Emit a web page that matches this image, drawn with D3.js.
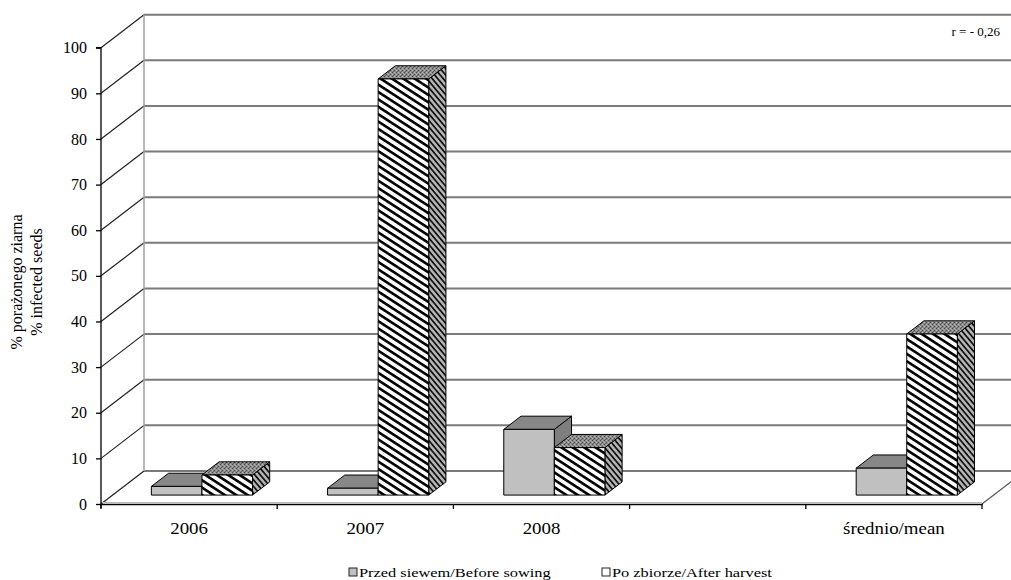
<!DOCTYPE html>
<html>
<head>
<meta charset="utf-8">
<script src="https://cdn.jsdelivr.net/npm/d3@7"></script>
<style>
  html, body { margin: 0; padding: 0; background: #fff; }
  svg { display: block; font-family: "Liberation Serif", "Times New Roman", serif; }
</style>
</head>
<body>
<svg id="chart" width="1011" height="580"></svg>
<script>
// Percentage of infected seeds, per year and the mean
const categories = ["2006", "2007", "2008", "", "średnio/mean"];
const seriesNames = ["Przed siewem/Before sowing", "Po zbiorze/After harvest"];
const beforeSowing = [1.9, 1.5, 14.4, null, 5.9];
const afterHarvest = [4.4, 91.2, 10.4, null, 35.3];
const yTicks = [0, 10, 20, 30, 40, 50, 60, 70, 80, 90, 100];
const yTitle = ["% porażonego ziarna", "% infected seeds"];
const note = "r = - 0,26";

const svg = d3.select("#chart");
const W = 1011, H = 580;
const serif = "Liberation Serif, Times New Roman, serif";

// front plane of the 3-D box
const x = d3.scaleBand().domain(categories).range([101, 982]).paddingInner(0).paddingOuter(0);
const y = d3.scaleLinear().domain([0, 100]).range([504, 47.7]);

// oblique projection of the depth axis
const DX = 43, DY = -33;                // full floor depth
const barFront = 0.27, barDepth = 0.4;  // bar slab position inside the depth
const bw = x.bandwidth();

const defs = svg.append("defs");
// stripes on the front of the "after harvest" bars
const pFront = defs.append("pattern").attr("id", "hatchFront")
  .attr("patternUnits", "userSpaceOnUse").attr("width", 12).attr("height", 6.2)
  .attr("patternTransform", "rotate(33)");
pFront.append("rect").attr("width", 12).attr("height", 6.2).attr("fill", "#fff");
pFront.append("rect").attr("y", 0).attr("width", 12).attr("height", 2.6).attr("fill", "#000");

// stripes on the side faces
const pSide = defs.append("pattern").attr("id", "hatchSide")
  .attr("patternUnits", "userSpaceOnUse").attr("width", 8).attr("height", 4.2)
  .attr("patternTransform", "rotate(50)");
pSide.append("rect").attr("width", 8).attr("height", 4.2).attr("fill", "#b4b4b4");
pSide.append("rect").attr("width", 8).attr("height", 1.7).attr("fill", "#111");

// speckled top faces
const pTop = defs.append("pattern").attr("id", "speckle")
  .attr("patternUnits", "userSpaceOnUse").attr("width", 4).attr("height", 4);
pTop.append("rect").attr("width", 4).attr("height", 4).attr("fill", "#8a8a8a");
[[0, 0, "#4a4a4a"], [2, 2, "#4a4a4a"], [2, 0, "#b8b8b8"], [0, 2, "#b8b8b8"], [1, 3, "#666"], [3, 1, "#a0a0a0"]]
  .forEach(([px, py, c]) => pTop.append("rect").attr("x", px).attr("y", py)
    .attr("width", 1).attr("height", 1).attr("fill", c));

const x0 = x.range()[0], x1 = x.range()[1];

// back wall gridlines and left wall diagonals
const grid = svg.append("g");
grid.selectAll("line.back").data(yTicks).join("line")
  .attr("x1", x0 + DX).attr("x2", W + 5)
  .attr("y1", d => y(d) + DY).attr("y2", d => y(d) + DY)
  .attr("stroke", "#7a7a7a").attr("stroke-width", 2);
grid.selectAll("line.side").data(yTicks).join("line")
  .attr("x1", x0).attr("y1", d => y(d))
  .attr("x2", x0 + DX).attr("y2", d => y(d) + DY)
  .attr("stroke", "#222").attr("stroke-width", 1.2);
// back-left vertical edge
grid.append("line")
  .attr("x1", x0 + DX).attr("x2", x0 + DX)
  .attr("y1", y(100) + DY).attr("y2", y(0) + DY)
  .attr("stroke", "#a0a0a0").attr("stroke-width", 1.5);
// right floor edge
grid.append("line")
  .attr("x1", x1).attr("y1", y(0))
  .attr("x2", x1 + DX).attr("y2", y(0) + DY)
  .attr("stroke", "#555").attr("stroke-width", 1.2);
// front floor edge (light)
grid.append("line")
  .attr("x1", x0).attr("x2", x1).attr("y1", y(0) - 1.5).attr("y2", y(0) - 1.5)
  .attr("stroke", "#bbb").attr("stroke-width", 1);

// bars
const fx = DX * barFront, fy = DY * barFront;
const dx = DX * barDepth, dy = DY * barDepth;
const barW = bw * 0.287, barOff = bw * 0.22;

const styles = [
  { front: "#c0c0c0", top: "#878787", side: "#7e7e7e" },
  { front: "url(#hatchFront)", top: "url(#speckle)", side: "url(#hatchSide)" }
];
const series = [beforeSowing, afterHarvest];

const bars = [];
categories.forEach((c, ci) => {
  series.forEach((vals, si) => {
    const v = vals[ci];
    if (v == null) return;
    bars.push({ cat: c, s: si, v });
  });
});

const gBars = svg.append("g");
bars.forEach(b => {
  const left = x(b.cat) + barOff + b.s * barW + fx;
  const right = left + barW;
  const bottom = y(0) + fy;
  const top = y(b.v) + fy;
  const st = styles[b.s];
  const g = gBars.append("g").attr("stroke", "#000").attr("stroke-width", 1).attr("stroke-linejoin", "round");
  // side face
  g.append("path")
    .attr("d", `M${right},${bottom}L${right + dx},${bottom + dy}L${right + dx},${top + dy}L${right},${top}Z`)
    .attr("fill", st.side);
  // top face
  g.append("path")
    .attr("d", `M${left},${top}L${left + dx},${top + dy}L${right + dx},${top + dy}L${right},${top}Z`)
    .attr("fill", st.top);
  // front face
  g.append("rect")
    .attr("x", left).attr("y", top).attr("width", barW).attr("height", bottom - top)
    .attr("fill", st.front);
});

// y axis
const yAxis = svg.append("g").attr("transform", `translate(${x0},0)`)
  .call(d3.axisLeft(y).tickValues(yTicks).tickSize(5).tickPadding(9).tickFormat(d3.format("d")));
yAxis.attr("font-family", serif);
yAxis.select(".domain").attr("stroke", "#000").attr("stroke-width", 1.3)
  .attr("d", `M-5,${y(100)}H0V${y(0) + 4}`);
yAxis.selectAll(".tick line").attr("stroke", "#000").attr("stroke-width", 1.3);
yAxis.selectAll(".tick text").attr("font-size", 16).attr("fill", "#000");

// x axis
const xAxis = svg.append("g").attr("transform", `translate(0,${y(0)})`)
  .call(d3.axisBottom(x).tickSize(0).tickPadding(0));
xAxis.attr("font-family", serif);
xAxis.select(".domain").attr("stroke", "#000").attr("stroke-width", 1.3);
xAxis.selectAll(".tick text").attr("font-size", 16).attr("fill", "#000")
  .attr("dy", null).attr("y", null)
  .attr("transform", "translate(0,30) scale(1.18,1)");
const bounds = categories.map(c => x(c)).concat([x1]);
xAxis.selectAll("line.bound").data(bounds).join("line")
  .attr("class", "bound").attr("x1", d => d).attr("x2", d => d)
  .attr("y1", 0).attr("y2", 5).attr("stroke", "#000").attr("stroke-width", 1.3);

// y title
const yt = svg.append("text").attr("transform", "translate(22,282) rotate(-90)")
  .attr("text-anchor", "middle").attr("font-size", 16).attr("fill", "#000");
yt.append("tspan").attr("x", 0).attr("y", 0).text(yTitle[0]);
yt.append("tspan").attr("x", 0).attr("y", 20).text(yTitle[1]);

// correlation note
svg.append("text").attr("x", 1000).attr("y", 36).attr("text-anchor", "end")
  .attr("font-size", 13).attr("fill", "#000").text(note);

// legend
const legendX = [349, 602];
const legendFill = ["#c0c0c0", "#fff"];
const lg = svg.append("g");
seriesNames.forEach((name, i) => {
  lg.append("rect").attr("x", legendX[i]).attr("y", 568).attr("width", 8).attr("height", 8)
    .attr("fill", legendFill[i]).attr("stroke", "#222").attr("stroke-width", 1);
  lg.append("text").attr("transform", `translate(${legendX[i] + 10},577) scale(1.26,1)`)
    .attr("font-size", 13).attr("fill", "#000").text(name);
});
</script>
</body>
</html>
